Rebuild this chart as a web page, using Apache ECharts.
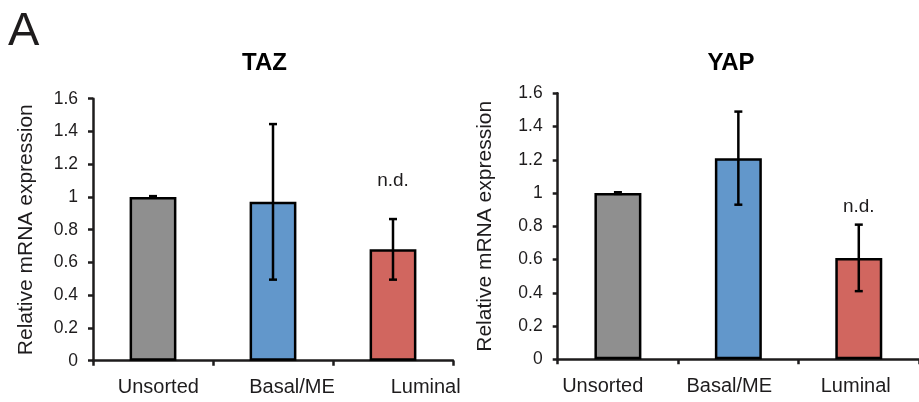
<!DOCTYPE html>
<html>
<head>
<meta charset="utf-8">
<script src="https://cdn.jsdelivr.net/npm/echarts@6/dist/echarts.min.js"></script>
<style>
html,body{margin:0;padding:0;background:#fff;}
#chart{width:919px;height:402px;}
</style>
</head>
<body>
<div id="chart"></div>
<script>
// ---- data ----
var categories = ['Unsorted', 'Basal/ME', 'Luminal'];
var tazValues = [1.0, 0.97, 0.68];
var tazErrors = [0.005, 0.475, 0.185];
var yapValues = [1.0, 1.21, 0.61];
var yapErrors = [0.005, 0.28, 0.20];
var notes = ['', '', 'n.d.'];
var tazNoteLevel = 1.10;
var yapNoteLevel = 0.92;
var titles = ['TAZ', 'YAP'];
var yTicks = [0, 0.2, 0.4, 0.6, 0.8, 1, 1.2, 1.4, 1.6];
var panelLetter = 'A';

// ---- styles ----
var barColors = ['#8f8f8f', '#6297cb', '#d1665f'];
var ink = '#1e1c1d';
var FONT = '"Liberation Sans", Arial, sans-serif';

var chart = echarts.init(document.getElementById('chart'), null, {renderer: 'canvas'});

function yAxisFor(gridIndex, nameGap) {
  return {
    type: 'value', gridIndex: gridIndex,
    min: yTicks[0], max: yTicks[yTicks.length - 1], interval: 0.2,
    name: 'Relative mRNA expression', nameLocation: 'middle', nameGap: nameGap,
    nameTextStyle: {fontFamily: FONT, fontSize: 21, color: ink},
    axisLine: {show: true, lineStyle: {color: ink, width: 2.5}},
    axisTick: {show: true, length: 5, lineStyle: {color: ink, width: 2.5}},
    axisLabel: {margin: 15, fontFamily: FONT, fontSize: 17.5, color: ink,
      formatter: function (v) { return String(+v.toFixed(1)); }},
    splitLine: {show: false}
  };
}
function xAxisFor(gridIndex) {
  return {
    type: 'category', gridIndex: gridIndex, data: categories,
    axisLine: {show: true, onZero: false, lineStyle: {color: ink, width: 2.5}},
    axisTick: {show: true, length: 5, lineStyle: {color: ink, width: 2.5}},
    axisLabel: {show: false}
  };
}
function labelXAxis(gridIndex) {
  return {
    type: 'category', gridIndex: gridIndex, data: categories,
    axisLine: {show: false}, axisTick: {show: false},
    axisLabel: {show: true, margin: 17, fontFamily: FONT, fontSize: 20, color: ink}
  };
}
function hiddenY(gridIndex) {
  return {type: 'value', gridIndex: gridIndex, show: false, min: 0, max: 1.6};
}

function barSeries(axisIdx, values) {
  return {
    type: 'bar', xAxisIndex: axisIdx, yAxisIndex: axisIdx, barWidth: '39%',
    data: values.map(function (v, i) {
      return {value: v, itemStyle: {color: barColors[i], borderColor: '#000', borderWidth: 2.5}};
    }),
    silent: true, animation: false
  };
}
function errSeries(axisIdx, values, errs) {
  return {
    type: 'custom', xAxisIndex: axisIdx, yAxisIndex: axisIdx, silent: true, animation: false, z: 5,
    data: values.map(function (v, i) { return [i, v, errs[i]]; }),
    renderItem: function (params, api) {
      var x = api.value(0), v = api.value(1), e = api.value(2);
      var hi = api.coord([x, v + e]), lo = api.coord([x, v - e]);
      var c = 4, st = {stroke: '#000', lineWidth: 2.5};
      return {type: 'group', children: [
        {type: 'line', shape: {x1: hi[0], y1: hi[1], x2: lo[0], y2: lo[1]}, style: st},
        {type: 'line', shape: {x1: hi[0] - c, y1: hi[1], x2: hi[0] + c, y2: hi[1]}, style: st},
        {type: 'line', shape: {x1: lo[0] - c, y1: lo[1], x2: lo[0] + c, y2: lo[1]}, style: st}
      ]};
    }
  };
}
function noteSeries(axisIdx, level) {
  var d = [];
  notes.forEach(function (n, i) { if (n) d.push({value: [i, level], name: n}); });
  return {
    type: 'scatter', xAxisIndex: axisIdx, yAxisIndex: axisIdx, symbolSize: 1,
    itemStyle: {color: 'rgba(0,0,0,0)'}, silent: true, animation: false,
    label: {show: true, position: 'inside', formatter: function (p) { return p.name; },
      fontFamily: FONT, fontSize: 19, color: ink, textBorderWidth: 0, opacity: 1},
    data: d
  };
}

var option = {
  backgroundColor: '#fff',
  animation: false,
  title: [
    {text: titles[0], left: 259.5, top: 46, textAlign: 'center',
      textStyle: {fontFamily: FONT, fontWeight: 'bold', fontSize: 24, color: '#000'}},
    {text: titles[1], left: 726, top: 46, textAlign: 'center',
      textStyle: {fontFamily: FONT, fontWeight: 'bold', fontSize: 24, color: '#000'}}
  ],
  graphic: [
    {type: 'text', left: 8, top: 9, style: {text: panelLetter, fontFamily: FONT, fontSize: 47, fill: ink}}
  ],
  grid: [
    {left: 93, top: 98.7, width: 360, height: 262},
    {left: 557.7, top: 93.3, width: 363, height: 266},
    {left: 91.5, top: 98.7, width: 401, height: 262},
    {left: 539.5, top: 93.3, width: 401, height: 266}
  ],
  xAxis: [xAxisFor(0), xAxisFor(1), labelXAxis(2), labelXAxis(3)],
  yAxis: [yAxisFor(0, 56), yAxisFor(1, 62), hiddenY(2), hiddenY(3)],
  series: [
    barSeries(0, tazValues), errSeries(0, tazValues, tazErrors), noteSeries(0, tazNoteLevel),
    barSeries(1, yapValues), errSeries(1, yapValues, yapErrors), noteSeries(1, yapNoteLevel)
  ]
};
chart.setOption(option);
</script>
</body>
</html>
